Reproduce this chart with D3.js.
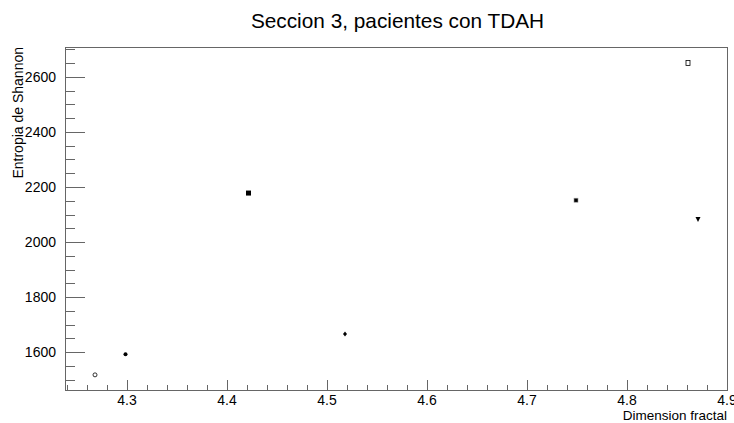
<!DOCTYPE html>
<html><head><meta charset="utf-8">
<script src="https://cdn.jsdelivr.net/npm/d3@7"></script>
<style>body{margin:0;background:#fff}svg{display:block}text{font-family:"Liberation Sans",Arial,sans-serif}</style>
</head><body><div id="chart"></div>
<script>
const xValues = [4.268, 4.2985, 4.4215, 4.518, 4.749, 4.861, 4.871];
const yValues = [1517, 1592, 2178, 1666, 2152, 2651, 2082];
const markerKinds = ["openCircle","dot","bigSquare","diamond","square","openSquare","triangleDown"];
const xTicks = [4.3, 4.4, 4.5, 4.6, 4.7, 4.8, 4.9];
const yTicks = [1600, 1800, 2000, 2200, 2400, 2600];
const titleText = "Seccion 3, pacientes con TDAH";
const xTitle = "Dimension fractal";
const yTitle = "Entropia de Shannon";

const W = 734, H = 423;
const m = {left: 65, right: 727, top: 47, bottom: 390};
const svg = d3.select("#chart").append("svg").attr("width", W).attr("height", H);

const x = d3.scaleLinear().domain([4.238, 4.9]).range([m.left, m.right]);
const y = d3.scaleLinear().domain([1462, 2709]).range([m.bottom, m.top]);

const lineCol = "#666";
svg.append("rect").attr("x", m.left + 0.5).attr("y", m.top + 0.5)
  .attr("width", m.right - m.left).attr("height", m.bottom - m.top)
  .attr("fill", "none").attr("stroke", lineCol).attr("stroke-width", 1);

const xMinor = d3.range(4.24, 4.9001, 0.02);
const gx = svg.append("g");
xMinor.forEach(v => {
  const isMajor = Math.abs(v * 10 - Math.round(v * 10)) < 1e-6;
  const px = Math.round(x(v)) + 0.5;
  gx.append("line").attr("x1", px).attr("x2", px)
    .attr("y1", m.bottom).attr("y2", m.bottom - (isMajor ? 10 : 5))
    .attr("stroke", lineCol).attr("stroke-width", 1);
});
xTicks.forEach(v => {
  gx.append("text").attr("x", x(v)).attr("y", 405)
    .attr("text-anchor", "middle").attr("font-size", 14).attr("fill", "#000")
    .text(d3.format(".1f")(v));
});

const yMinor = d3.range(1500, 2701, 50);
const gy = svg.append("g");
yMinor.forEach(v => {
  const isMajor = v % 200 === 0;
  const py = Math.round(y(v)) + 0.5;
  gy.append("line").attr("x1", m.left).attr("x2", m.left + (isMajor ? 20 : 10))
    .attr("y1", py).attr("y2", py)
    .attr("stroke", lineCol).attr("stroke-width", 1);
});
yTicks.forEach(v => {
  gy.append("text").attr("x", m.left - 9).attr("y", y(v) + 5)
    .attr("text-anchor", "end").attr("font-size", 14).attr("fill", "#000")
    .text(v);
});

svg.append("text").attr("x", 397.5).attr("y", 28).attr("text-anchor", "middle")
  .attr("font-size", 20.8).attr("fill", "#000").text(titleText);
svg.append("text").attr("x", m.right).attr("y", 420).attr("text-anchor", "end")
  .attr("font-size", 13.5).attr("fill", "#000").text(xTitle);
svg.append("text").attr("transform", `translate(23,${m.top}) rotate(-90)`)
  .attr("text-anchor", "end").attr("font-size", 14).attr("fill", "#000").text(yTitle);

const pts = xValues.map((v, i) => ({x: v, y: yValues[i], k: markerKinds[i]}));
const g = svg.append("g");
pts.forEach(p => {
  const cx = x(p.x), cy = y(p.y);
  if (p.k === "openCircle") {
    g.append("circle").attr("cx", cx).attr("cy", cy).attr("r", 2).attr("fill", "none").attr("stroke", "#000").attr("stroke-width", 0.8);
  } else if (p.k === "dot") {
    g.append("circle").attr("cx", cx).attr("cy", cy).attr("r", 2).attr("fill", "#000");
  } else if (p.k === "bigSquare") {
    g.append("rect").attr("x", cx - 2.5).attr("y", cy - 2.5).attr("width", 5).attr("height", 5).attr("fill", "#000");
  } else if (p.k === "diamond") {
    g.append("path").attr("d", `M${cx},${cy-2.5}L${cx+2},${cy}L${cx},${cy+2.5}L${cx-2},${cy}Z`).attr("fill", "#000");
  } else if (p.k === "square") {
    g.append("rect").attr("x", cx - 2).attr("y", cy - 2).attr("width", 4).attr("height", 4).attr("fill", "#000").attr("stroke", "#999").attr("stroke-width", 0.6);
  } else if (p.k === "openSquare") {
    g.append("rect").attr("x", cx - 2).attr("y", cy - 2.5).attr("width", 4).attr("height", 5).attr("fill", "none").attr("stroke", "#000").attr("stroke-width", 0.8);
  } else if (p.k === "triangleDown") {
    g.append("path").attr("d", `M${cx-2.5},${cy-2.5}L${cx+2.5},${cy-2.5}L${cx},${cy+2.5}Z`).attr("fill", "#000");
  }
});
</script></body></html>
